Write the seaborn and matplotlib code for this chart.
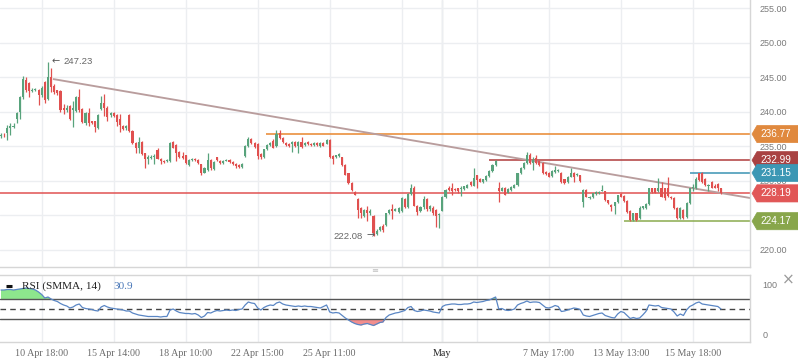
import numpy as np
import pandas as pd
import matplotlib
matplotlib.use("Agg")
import matplotlib.pyplot as plt
import seaborn as sns
from matplotlib.patches import Polygon

# ---------------- data ----------------
opens = [236.5, 236.7, 236.9, 237.6, 237.8, 239.0, 240.0, 242.1, 244.6, 244.1,
         243.0, 243.2, 243.1, 242.4, 244.3, 241.9, 245.0, 243.7, 243.1, 243.0,
         240.6, 240.3, 240.8, 240.3, 240.1, 242.1, 240.4, 238.4, 239.8, 238.6,
         238.6, 237.7, 240.4, 241.2, 240.6, 239.5, 239.8, 239.5, 239.0, 237.9,
         237.6, 239.5, 237.2, 235.5, 234.8, 235.6, 234.0, 233.2, 233.3, 233.4,
         234.5, 233.2, 232.9, 232.8, 232.8, 235.6, 235.2, 234.2, 233.6, 233.7,
         232.3, 233.0, 233.2, 233.0, 232.4, 231.2, 231.6, 233.0, 231.7, 233.4,
         232.9, 232.6, 232.9, 233.0, 232.7, 232.5, 232.3, 232.0, 233.6, 235.0,
         236.1, 235.5, 235.4, 233.9, 233.4, 234.6, 235.2, 235.8, 235.0, 236.9,
         236.2, 235.5, 235.4, 235.4, 235.6, 235.0, 235.6, 235.2, 235.6, 235.4,
         235.2, 235.5, 235.0, 235.5, 235.4, 235.9, 233.6, 233.4, 233.6, 233.4,
         232.3, 231.1, 229.7, 228.4, 227.4, 226.1, 224.9, 225.8, 225.3, 224.9,
         222.3, 222.9, 223.4, 223.6, 225.3, 225.9, 225.7, 225.5, 225.6, 227.4,
         226.2, 228.1, 229.0, 226.4, 225.6, 226.2, 227.4, 225.9, 226.1, 225.8,
         225.0, 225.7, 227.7, 229.0, 229.0, 228.8, 228.9, 228.8, 228.8, 229.0,
         229.9, 229.3, 230.8, 230.3, 229.8, 230.1, 230.7, 231.4, 232.3, 228.9,
         228.6, 229.0, 228.3, 228.7, 229.0, 229.4, 231.1, 231.8, 232.6, 233.8,
         232.6, 233.3, 232.8, 232.6, 231.3, 231.2, 230.7, 231.3, 231.4, 231.2,
         230.2, 229.8, 230.6, 231.2, 230.8, 230.8, 227.0, 228.7, 227.5, 227.6,
         228.1, 228.2, 228.6, 228.5, 227.2, 226.5, 226.3, 226.9, 228.1, 227.8,
         227.1, 225.7, 224.4, 225.3, 224.6, 226.1, 226.1, 226.6, 228.9, 228.9,
         228.5, 229.0, 228.9, 228.9, 227.7, 227.5, 226.1, 224.6, 225.8, 224.7,
         226.8, 228.9, 228.9, 231.2, 231.2, 230.3, 229.2, 229.9, 229.3, 229.6,
         228.9]
closes = [236.7, 236.6, 237.6, 238.0, 238.0, 239.8, 242.1, 244.7, 243.1, 243.0,
          243.2, 243.3, 242.4, 243.5, 241.7, 245.0, 243.6, 242.9, 242.7, 240.2,
          240.2, 240.6, 239.0, 240.6, 242.1, 240.3, 238.5, 239.8, 238.4, 238.4,
          237.8, 239.5, 241.3, 240.5, 239.3, 239.8, 239.4, 238.5, 238.1, 237.5,
          237.9, 237.2, 235.5, 234.8, 235.6, 233.9, 233.2, 233.4, 233.5, 233.6,
          233.2, 232.8, 232.7, 233.0, 235.5, 234.8, 234.0, 233.4, 233.3, 232.6,
          233.0, 233.2, 233.0, 232.6, 231.2, 231.9, 233.0, 231.9, 232.7, 233.0,
          232.6, 232.9, 233.0, 232.7, 232.4, 232.1, 232.0, 232.5, 235.1, 236.1,
          235.5, 234.9, 233.6, 233.4, 234.6, 235.2, 235.5, 234.8, 236.8, 236.2,
          235.6, 235.2, 235.0, 235.6, 235.0, 235.6, 234.9, 235.5, 235.3, 235.2,
          235.5, 235.2, 235.5, 235.1, 235.9, 233.4, 233.2, 233.7, 233.9, 232.3,
          230.9, 229.7, 228.7, 228.0, 225.8, 225.4, 225.8, 225.3, 225.7, 222.4,
          222.8, 223.3, 222.9, 225.3, 225.8, 225.6, 226.0, 226.1, 227.5, 226.2,
          228.1, 228.9, 226.4, 225.5, 226.2, 227.4, 225.9, 226.4, 225.4, 224.9,
          225.2, 227.7, 228.7, 228.7, 228.6, 228.7, 228.6, 229.0, 229.2, 229.4,
          229.4, 230.4, 230.1, 229.9, 230.2, 230.7, 231.4, 232.3, 232.8, 228.5,
          229.0, 228.0, 228.8, 229.1, 229.4, 231.1, 231.9, 232.6, 233.7, 232.6,
          233.0, 232.6, 232.3, 231.1, 231.0, 230.6, 231.4, 231.6, 231.6, 229.8,
          229.7, 230.6, 231.2, 230.6, 231.0, 230.0, 228.7, 227.7, 227.7, 228.2,
          228.4, 228.4, 228.7, 227.2, 226.8, 226.2, 226.9, 227.9, 227.7, 227.1,
          225.5, 224.3, 225.3, 224.4, 226.1, 226.3, 226.7, 228.9, 228.4, 228.3,
          228.9, 227.7, 227.5, 227.8, 227.5, 226.1, 224.6, 226.1, 224.6, 226.8,
          228.9, 229.1, 230.3, 230.1, 229.8, 229.4, 229.4, 229.0, 229.0, 229.0,
          228.19]
highs = [236.9, 236.9, 238.1, 238.4, 238.3, 240.0, 242.3, 245.2, 245.0, 244.3,
         243.4, 243.5, 243.3, 243.7, 244.5, 247.23, 246.3, 244.0, 243.2, 243.1,
         241.1, 241.0, 241.0, 241.6, 242.3, 243.3, 240.6, 240.0, 240.6, 238.7,
         238.7, 239.6, 242.3, 242.6, 240.8, 240.0, 240.0, 239.7, 239.6, 238.1,
         238.1, 239.6, 237.3, 235.6, 236.3, 235.8, 234.1, 233.8, 233.7, 233.9,
         234.7, 233.3, 233.0, 233.1, 235.6, 235.8, 235.3, 234.3, 234.2, 233.8,
         233.1, 233.3, 233.3, 233.1, 232.5, 232.0, 234.0, 233.1, 232.8, 233.5,
         233.0, 233.0, 233.1, 233.1, 232.8, 232.6, 232.4, 232.6, 235.2, 236.3,
         236.2, 235.6, 235.5, 234.0, 234.6, 235.3, 235.6, 236.0, 237.3, 237.4,
         236.3, 235.6, 235.5, 235.7, 235.7, 235.7, 236.4, 235.6, 235.7, 235.5,
         235.6, 235.6, 235.6, 235.6, 236.0, 236.0, 233.7, 233.8, 234.0, 233.5,
         232.4, 231.2, 229.8, 228.5, 227.5, 226.2, 225.9, 226.3, 225.9, 225.0,
         223.0, 223.5, 223.8, 225.4, 225.9, 226.7, 226.1, 226.2, 227.6, 227.5,
         228.2, 229.6, 229.3, 226.5, 226.4, 227.8, 227.5, 226.5, 226.3, 226.0,
         225.4, 227.8, 228.8, 229.3, 229.7, 228.9, 229.0, 229.3, 229.3, 229.5,
         230.0, 231.9, 230.9, 230.4, 230.3, 230.8, 231.5, 232.4, 233.0, 229.8,
         229.1, 229.1, 228.9, 229.2, 229.5, 231.2, 232.0, 232.7, 234.2, 234.0,
         233.4, 233.7, 232.9, 232.7, 231.4, 231.3, 231.5, 232.2, 231.7, 231.3,
         230.3, 230.7, 231.9, 231.3, 231.1, 230.9, 228.8, 228.8, 227.8, 228.3,
         228.5, 228.5, 229.4, 228.6, 227.3, 226.6, 227.0, 228.0, 228.2, 227.9,
         227.2, 225.8, 225.4, 225.4, 226.3, 226.4, 226.8, 229.0, 229.0, 229.0,
         230.4, 229.9, 229.0, 230.6, 227.8, 227.6, 226.2, 226.2, 225.9, 226.9,
         229.0, 229.5, 230.5, 231.15, 231.3, 230.4, 229.5, 230.0, 229.6, 229.7,
         229.0]
lows = [236.2, 236.3, 235.9, 236.6, 237.6, 238.3, 239.0, 241.9, 242.9, 242.1,
        242.8, 243.0, 241.0, 242.2, 241.3, 241.7, 242.8, 242.6, 242.4, 240.0,
        239.7, 240.0, 238.8, 237.8, 239.9, 240.0, 238.3, 238.1, 238.0, 238.2,
        237.0, 237.5, 240.2, 239.4, 238.7, 239.3, 239.2, 238.0, 237.0, 237.3,
        237.4, 237.0, 235.4, 234.1, 234.1, 233.8, 231.9, 232.4, 233.2, 232.5,
        233.1, 232.4, 232.6, 232.7, 232.7, 234.7, 232.9, 233.3, 233.2, 232.5,
        232.2, 232.9, 232.9, 232.5, 230.9, 231.1, 231.4, 231.5, 231.6, 232.9,
        232.5, 232.5, 232.8, 232.6, 232.3, 231.9, 231.9, 231.9, 233.5, 234.9,
        235.4, 234.8, 233.2, 233.1, 233.3, 234.5, 235.1, 234.7, 234.9, 236.0,
        235.5, 235.0, 234.9, 234.2, 234.9, 234.0, 234.8, 235.1, 235.2, 235.1,
        235.1, 235.0, 234.9, 235.0, 235.3, 233.3, 232.5, 233.3, 233.5, 232.2,
        230.8, 229.6, 228.6, 227.9, 224.6, 224.6, 224.7, 224.2, 225.0, 222.08,
        222.1, 222.8, 222.6, 223.5, 225.2, 224.5, 225.6, 225.4, 225.5, 226.1,
        226.1, 228.0, 226.3, 225.0, 225.5, 226.0, 225.6, 225.6, 225.1, 223.3,
        223.2, 225.6, 227.5, 228.6, 228.0, 228.5, 228.2, 227.8, 228.7, 228.9,
        229.3, 229.2, 229.0, 229.8, 229.7, 230.0, 230.6, 231.3, 232.2, 226.9,
        228.5, 227.9, 228.2, 228.6, 228.9, 229.3, 231.0, 231.7, 232.5, 232.5,
        231.6, 232.5, 232.1, 231.0, 230.9, 230.5, 230.6, 231.2, 231.3, 229.7,
        229.6, 229.7, 230.5, 229.8, 230.7, 229.9, 226.2, 227.6, 227.4, 227.5,
        228.0, 228.1, 228.5, 227.1, 226.7, 225.6, 225.2, 226.8, 227.6, 227.0,
        225.4, 224.2, 224.2, 224.2, 224.5, 226.0, 226.0, 226.5, 228.3, 228.2,
        228.4, 227.6, 227.2, 227.7, 227.4, 226.0, 224.5, 224.5, 224.5, 224.6,
        226.7, 228.5, 228.8, 230.0, 229.7, 229.3, 228.6, 228.9, 228.9, 228.5,
        228.1]
rsi = [88, 88, 89, 89, 88, 89, 90, 91, 92, 91,
       90, 88, 84, 79, 72, 74, 70, 67, 65, 61,
       58, 56, 52, 54, 58, 60, 53, 51, 50, 49,
       47, 46, 54, 57, 54, 52, 51, 50, 49, 48,
       46, 46, 42, 40, 38, 37, 36, 35, 35, 35,
       35, 34, 35, 35, 48, 50, 46, 43, 42, 41,
       41, 40, 41, 38, 33, 36, 43, 42, 45, 47,
       46, 47, 48, 47, 48, 47, 49, 50, 58, 64,
       62, 61, 52, 48, 53, 56, 58, 57, 62, 64,
       60, 58, 57, 56, 55, 56, 55, 56, 55, 55,
       54, 53, 52, 55, 58, 44, 42, 43, 42, 37,
       32, 28, 24, 21, 19, 18, 20, 21, 19, 17,
       20, 23, 24, 33, 38, 40, 42, 43, 45, 47,
       53, 55, 47, 45, 46, 48, 47, 46, 44, 43,
       42, 55, 58, 59, 60, 60, 59, 59, 60, 60,
       61, 64, 63, 64, 65, 67, 68, 71, 74, 50,
       51, 48, 47, 48, 50, 58, 61, 63, 66, 63,
       64, 64, 63, 58, 53, 52, 54, 57, 55, 45,
       46, 48, 50, 52, 51, 49, 38, 36, 35, 37,
       39, 41, 42, 37, 35, 33, 32, 40, 45, 43,
       37, 31, 33, 31, 32, 38, 45, 58, 57, 56,
       57, 53, 52, 51, 50, 44, 36, 40, 37, 48,
       55, 58, 62, 64, 60, 59, 58, 57, 56, 55,
       50]

tick_pos = [13, 36, 59, 82, 105, 128, 141, 152, 175, 198, 221]
tick_labels = ["10 Apr 18:00", "15 Apr 14:00", "18 Apr 10:00", "22 Apr 15:00",
               "25 Apr 11:00", "", "May", "", "7 May 17:00", "13 May 13:00",
               "15 May 18:00"]
price_ticks = [220, 225, 230, 235, 240, 245, 250, 255]
levels = [236.77, 232.99, 231.15, 228.19, 224.17]
level_start = [84.7, 155.9, 220.1, -0.5, 199.0]
level_line_colors = ["#e8862e", "#b03c3c", "#3a93b3", "#e05252", "#8aab4e"]
level_box_colors = ["#e0893e", "#a94242", "#3c97b4", "#e15757", "#88a64b"]
trend_idx = [16.6, 239.3]
trend_price = [244.73, 227.52]
high_idx, high_val = 15, 247.23
low_idx, low_val = 119, 222.08
rsi_label, rsi_last = "RSI (SMMA, 14)", "30.9"

# ---------------- style ----------------
sns.set_theme(style="white")
plt.rcParams["font.family"] = ["Liberation Sans", "DejaVu Sans"]

W, H = 798, 363
fig = plt.figure(figsize=(W / 100, H / 100), dpi=100)
fig.patch.set_facecolor("white")
ax = fig.add_axes([0, 96 / H, 750 / W, 267 / H])
axr = fig.add_axes([0, 21 / H, 750 / W, 67 / H])

n = len(closes)
idx = np.arange(n)
sp = 720 / (n - 1)
xl = (-1 / sp, 749 / sp)
GREEN, RED = "#58a37c", "#e0504f"
GRID = "#eceef1"

# ---------------- main price panel ----------------
o = np.array(opens); c = np.array(closes)
col = np.where(c >= o, GREEN, RED)
ax.vlines(idx, lows, highs, colors=col, lw=0.9, zorder=3)
ax.bar(idx, np.maximum(np.abs(c - o), 0.08), bottom=np.minimum(o, c), width=0.66,
       color=col, linewidth=0, zorder=4)

for lv, st, lc in zip(levels, level_start, level_line_colors):
    ax.hlines(lv, st, xl[1] + 1, colors=lc, lw=1.1, zorder=2)
ax.plot(trend_idx, trend_price, color="#b99d9d", lw=1.35, zorder=2.5,
        solid_capstyle="butt")

ax.set_xlim(*xl)
ax.set_ylim(217.54, 256.16)
ax.set_yticks(price_ticks)
ax.set_yticklabels([f"{v:.2f}" for v in price_ticks])
ax.yaxis.tick_right()
ax.tick_params(axis="y", length=0, pad=7, labelsize=6.5, labelcolor="#7a7a7a")
ax.set_xticks(tick_pos)
ax.tick_params(axis="x", length=0, labelbottom=False)
ax.grid(True, color=GRID, lw=1)
ax.axvline(tick_pos[6], color="#dcdcdc", lw=1, zorder=0.5)
for s in ["top", "left"]:
    ax.spines[s].set_visible(False)
for s in ["right", "bottom"]:
    ax.spines[s].set_color("#d6d6d6")
    ax.spines[s].set_linewidth(1)

# high / low annotations
ax.annotate("\u2190", xy=(high_idx, high_val), xytext=(2.5, 0.5), textcoords="offset points",
            ha="left", va="center", fontsize=7, color="#555555", family="DejaVu Sans")
ax.annotate(f"{high_val:.2f}", xy=(high_idx, high_val), xytext=(11.5, 0), textcoords="offset points",
            ha="left", va="center", fontsize=6.8, color="#666666")
ax.annotate("\u2192", xy=(low_idx, low_val), xytext=(0.8, 0), textcoords="offset points",
            ha="right", va="center", fontsize=7, color="#555555", family="DejaVu Sans")
ax.annotate(f"{low_val:.2f}", xy=(low_idx, low_val), xytext=(-8, -0.5), textcoords="offset points",
            ha="right", va="center", fontsize=6.8, color="#666666")

# ---------------- RSI panel ----------------
r = np.array(rsi, dtype=float)
axr.fill_between(idx, r, 70, where=r >= 70, interpolate=True, color="#8de68d", lw=0, zorder=1)
axr.fill_between(idx, r, 30, where=r <= 30, interpolate=True, color="#f28e8e", lw=0, zorder=1)
sns.lineplot(x=idx, y=r, ax=axr, color="#5a86c4", lw=0.9, zorder=3)
axr.axhline(70, color="#555555", lw=1, zorder=2)
axr.axhline(30, color="#555555", lw=1, zorder=2)
axr.axhline(50, color="#444444", lw=1, ls=(0, (4, 3)), zorder=2)
axr.set_xlim(*xl)
axr.set_ylim(-16, 118)
axr.set_yticks([0, 100])
axr.set_yticklabels(["0", "100"])
axr.yaxis.tick_right()
axr.tick_params(axis="y", length=0, pad=9, labelsize=6.5, labelcolor="#7a7a7a")
axr.set_xticks(tick_pos)
axr.set_xticklabels(tick_labels)
axr.tick_params(axis="x", length=0, pad=5)
for lab in axr.get_xticklabels():
    lab.set_family(["Liberation Serif", "DejaVu Serif"])
    lab.set_fontsize(7.2)
    lab.set_color("#222222" if lab.get_text() == "May" else "#6a6a6a")
axr.grid(True, axis="x", color=GRID, lw=1)
axr.axvline(tick_pos[6], color="#dcdcdc", lw=1, zorder=0.5)
axr.set_xlabel(""); axr.set_ylabel("")
axr.spines["left"].set_visible(False)
for s in ["top", "right", "bottom"]:
    axr.spines[s].set_color("#d6d6d6")
    axr.spines[s].set_linewidth(1)

axr.plot([0.008, 0.016], [0.84, 0.84], transform=axr.transAxes, color="#111111", lw=2.2,
         solid_capstyle="butt", zorder=5)
axr.text(0.029, 0.83, rsi_label, transform=axr.transAxes, ha="left", va="center",
         fontsize=8.1, color="#222222", family=["Liberation Serif", "DejaVu Serif"], zorder=5)
axr.text(0.1505, 0.83, rsi_last, transform=axr.transAxes, ha="left", va="center",
         fontsize=8.1, color="#4a78b8", family=["Liberation Serif", "DejaVu Serif"], zorder=5)

# ---------------- price label boxes (figure pixels) ----------------
fig.canvas.draw()
for lv, bc in zip(levels, level_box_colors):
    yd = ax.transData.transform((0, lv))[1]
    hh = 8.6
    pts = [(752, yd), (757, yd + hh), (798, yd + hh), (798, yd - hh), (757, yd - hh)]
    pts = [(px / W, py / H) for px, py in pts]
    poly = Polygon(pts, closed=True, facecolor=bc, edgecolor=bc, lw=0.5,
                   transform=fig.transFigure, zorder=10)
    fig.add_artist(poly)
    fig.text(775.5 / W, yd / H, f"{lv:.2f}", ha="center", va="center", fontsize=7.2,
             color="white", zorder=11)

fig.text(788 / W, (H - 280) / H, "\u00d7", ha="center", va="center", fontsize=11,
         color="#9a9a9a", family="DejaVu Sans")
fig.text(375 / W, (H - 270.5) / H, "\u2261", ha="center", va="center", fontsize=6,
         color="#c0c0c0", family="DejaVu Sans")

fig.savefig("out.png", dpi=100)
